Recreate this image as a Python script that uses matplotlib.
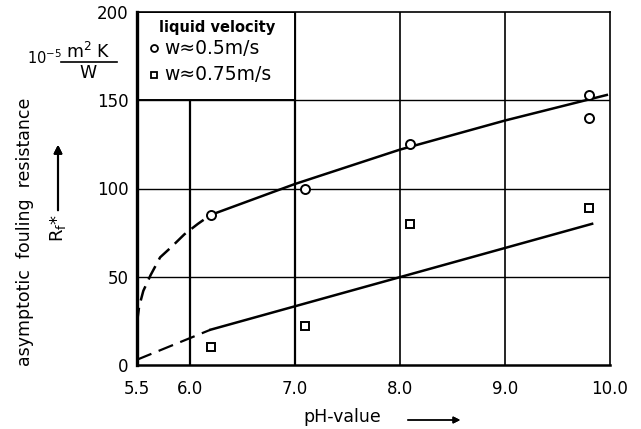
import matplotlib.pyplot as plt
from matplotlib.patches import Rectangle

# measured points
ph_circle = [6.2, 7.1, 8.1, 9.8, 9.8]
rf_circle = [85, 100, 125, 153, 140]
ph_square = [6.2, 7.1, 8.1, 9.8]
rf_square = [10, 22, 80, 89]

# fitted curves (dashed = extrapolated part)
ph_fit1_dash = [5.5, 5.52, 5.56, 5.63, 5.72, 5.83, 5.95, 6.08, 6.2]
rf_fit1_dash = [24, 33, 42, 51, 61, 67, 74, 80, 85]
ph_fit1 = [6.2, 7.0, 8.0, 9.0, 9.97]
rf_fit1 = [85, 102.5, 122, 138.5, 153]
ph_fit2_dash = [5.5, 6.2]
rf_fit2_dash = [3, 20]
ph_fit2 = [6.2, 9.83]
rf_fit2 = [20, 80]

x_ticks = [5.5, 6.0, 7.0, 8.0, 9.0, 10.0]
x_ticklabels = ['5.5', '6.0', '7.0', '8.0', '9.0', '10.0']
y_ticks = [0, 50, 100, 150, 200]

W, H = 641, 429
fig = plt.figure(figsize=(W / 100, H / 100), dpi=100)
ax = fig.add_axes([137 / W, 1 - 365 / H, (610 - 137) / W, (365 - 12) / H])

ax.set_xlim(5.5, 10.0)
ax.set_ylim(0, 200)
ax.set_xticks(x_ticks)
ax.set_xticklabels(x_ticklabels)
ax.set_yticks(y_ticks)
ax.tick_params(axis='x', length=0, pad=11, labelsize=12)
ax.tick_params(axis='y', length=0, pad=6, labelsize=12)

# grid
for x in [6.0, 7.0]:
    ax.axvline(x, color='black', lw=1.6, zorder=1)
for x in [8.0, 9.0]:
    ax.axvline(x, color='black', lw=1.2, zorder=1)
for y in [50, 100, 150]:
    ax.axhline(y, color='black', lw=1.0, zorder=1)

ax.spines['left'].set_linewidth(2.4)
ax.spines['bottom'].set_linewidth(1.8)
ax.spines['top'].set_linewidth(1.2)
ax.spines['right'].set_linewidth(1.2)

# legend box covering the grid
ax.add_patch(Rectangle((5.5, 150), 1.5, 50, facecolor='white', edgecolor='black',
                       lw=1.4, zorder=2))
ax.text(5.71, 191.5, 'liquid velocity', fontsize=10.5, fontweight='bold', va='center',
        zorder=3)
ax.plot([5.66], [179.5], 'o', ms=5, mfc='white', mec='black', mew=1.3, zorder=3)
ax.text(5.76, 179.5, 'w≈0.5m/s', fontsize=13.5, va='center', zorder=3)
ax.plot([5.66], [164.5], 's', ms=5, mfc='white', mec='black', mew=1.3, zorder=3)
ax.text(5.76, 164.5, 'w≈0.75m/s', fontsize=13.5, va='center', zorder=3)

# curves
ax.plot(ph_fit1_dash, rf_fit1_dash, color='black', lw=1.8, dashes=(6, 3), zorder=4)
ax.plot(ph_fit1, rf_fit1, color='black', lw=1.8, zorder=4)
ax.plot(ph_fit2_dash, rf_fit2_dash, color='black', lw=1.6, dashes=(7, 3.5), zorder=4)
ax.plot(ph_fit2, rf_fit2, color='black', lw=1.8, zorder=4)

# data
ax.plot(ph_circle, rf_circle, 'o', ms=6.5, mfc='white', mec='black', mew=1.4,
        zorder=5, clip_on=False)
ax.plot(ph_square, rf_square, 's', ms=5.5, mfc='white', mec='black', mew=1.4,
        zorder=5, clip_on=False)

# axis labels drawn as figure text
fig.text(25 / W, 1 - 232 / H, 'asymptotic  fouling  resistance', rotation=90,
         ha='center', va='center', fontsize=12.5)
fig.text(58 / W, 1 - 228 / H, r'R$_\mathrm{f}$*', rotation=90, ha='center',
         va='center', fontsize=13)
fig.add_artist(plt.annotate('', xy=(58 / W, 1 - 142 / H), xytext=(58 / W, 1 - 213 / H),
                            xycoords='figure fraction',
                            arrowprops=dict(arrowstyle='-|>', color='black', lw=1.5,
                                            mutation_scale=12)))

# units
fig.text(27 / W, 1 - 58 / H, r'10$^{-5}$', ha='left', va='center', fontsize=10.5)
fig.text(88 / W, 1 - 52 / H, r'm$^2$ K', ha='center', va='center', fontsize=12.5)
fig.add_artist(plt.Line2D([61 / W, 117 / W], [1 - 62 / H, 1 - 62 / H], color='black',
                          lw=1.2))
fig.text(88 / W, 1 - 73 / H, 'W', ha='center', va='center', fontsize=12.5)

fig.text(342 / W, 1 - 417 / H, 'pH-value', ha='center', va='center', fontsize=12.5)
fig.add_artist(plt.annotate('', xy=(463 / W, 1 - 420 / H), xytext=(405 / W, 1 - 420 / H),
                            xycoords='figure fraction',
                            arrowprops=dict(arrowstyle='-|>', color='black', lw=1.0,
                                            mutation_scale=10)))

fig.savefig('out.png', dpi=100)
